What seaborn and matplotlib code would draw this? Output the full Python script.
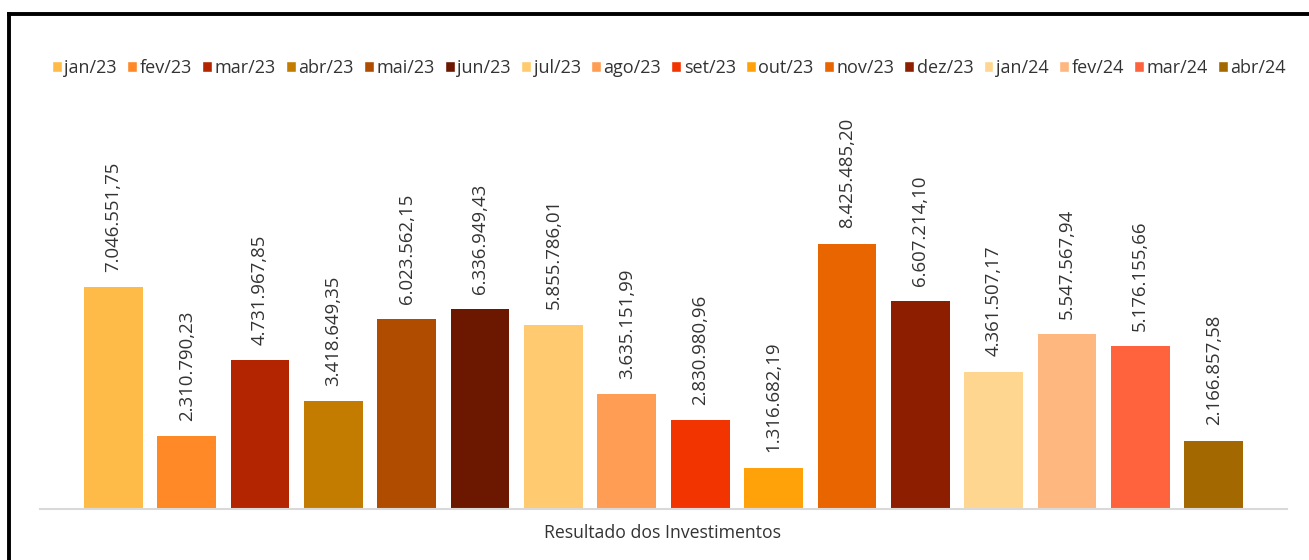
import pandas as pd
import matplotlib.pyplot as plt
import seaborn as sns
from matplotlib.patches import Patch
from matplotlib.lines import Line2D

# dados do gráfico
meses = ["jan/23", "fev/23", "mar/23", "abr/23", "mai/23", "jun/23", "jul/23", "ago/23",
         "set/23", "out/23", "nov/23", "dez/23", "jan/24", "fev/24", "mar/24", "abr/24"]
valores = [7046551.75, 2310790.23, 4731967.85, 3418649.35, 6023562.15, 6336949.43,
           5855786.01, 3635151.99, 2830980.96, 1316682.19, 8425485.20, 6607214.10,
           4361507.17, 5547567.94, 5176155.66, 2166857.58]
cores = ["#FFBB47", "#FF8827", "#B22500", "#C47C00", "#B04C00", "#6C1700",
         "#FFCA70", "#FF9D55", "#F23500", "#FFA20A", "#E86500", "#8E1E00",
         "#FFD690", "#FFB780", "#FF633D", "#A36800"]

df = pd.DataFrame({"mes": meses, "valor": valores})

sns.set_style("white")
plt.rcParams['font.family'] = ['Open Sans', 'DejaVu Sans']
cor_texto = "#333333"

fig = plt.figure(figsize=(13.09, 5.6), dpi=100)
ax = fig.add_axes([40 / 1309, 51 / 560, 1247 / 1309, 409 / 560])

sns.barplot(data=df, x="mes", y="valor", hue="mes", palette=cores, order=meses,
            hue_order=meses, width=0.8, saturation=1, linewidth=0, legend=False, ax=ax)

ax.set_xlim(-1, 16)
ax.set_ylim(0, 409 / 31.5 * 1e6)

# rótulos de valores
def fmt(v):
    return f"{v:,.2f}".replace(",", "X").replace(".", ",").replace("X", ".")

for i, v in enumerate(valores):
    ax.annotate(fmt(v), (i, v), xytext=(0, 11), textcoords="offset points",
                rotation=90, ha="center", va="bottom", fontsize=13.4, color=cor_texto)

ax.set_xticks([])
ax.set_yticks([])
ax.set_ylabel("")
ax.set_xlabel("")
for s in ["top", "left", "right"]:
    ax.spines[s].set_visible(False)
ax.spines["bottom"].set_color("#d9d9d9")
ax.spines["bottom"].set_linewidth(1.5)

fig.text(663 / 1309, 1 - 533 / 560, "Resultado dos Investimentos", ha="center", va="center",
         fontsize=12.7, color=cor_texto)

# legenda
handles = [Patch(facecolor=c, label=m) for m, c in zip(meses, cores)]
fig.legend(handles=handles, ncol=16, loc="center", bbox_to_anchor=(669 / 1309, 1 - 68 / 560),
           frameon=False, handlelength=0.55, handleheight=0.55, handletextpad=0.15,
           columnspacing=0.55, fontsize=13, labelcolor=cor_texto)

# moldura
fig.add_artist(Line2D([9 / 1309, 1.0], [1 - 14 / 560, 1 - 14 / 560], color="black", lw=2.8,
                      solid_capstyle="projecting"))
fig.add_artist(Line2D([9 / 1309, 9 / 1309], [0.0, 1 - 14 / 560], color="black", lw=2.8,
                      solid_capstyle="projecting"))

fig.savefig("out.png", dpi=100)
